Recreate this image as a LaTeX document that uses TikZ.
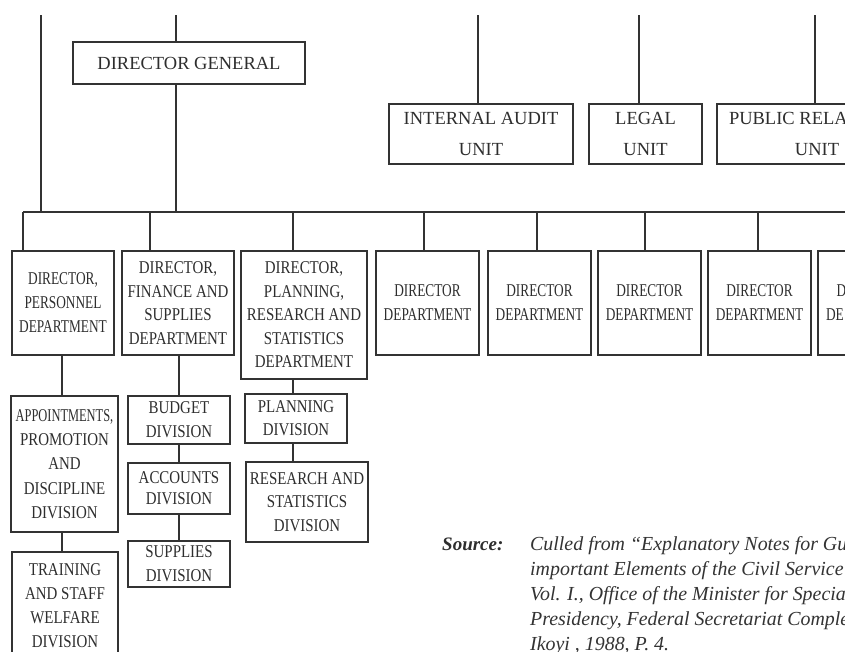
\documentclass[tikz,border=0pt]{standalone}
\usepackage{fontspec}
\setmainfont{Liberation Serif}
\newfontfamily\topfont{Liberation Serif}
\newfontfamily\condA{Liberation Serif}[FakeStretch=0.83]
\newfontfamily\condB{Liberation Serif}[FakeStretch=0.74]
\newfontfamily\condC{Liberation Serif}[FakeStretch=0.69]
\tikzset{
  box/.style={draw=black!80, line width=1.1pt, inner sep=0pt, align=center, text=black!82, rectangle},
  topbox/.style={box, font=\topfont\fontsize{18.5}{31}\selectfont},
  deptbox/.style={box, font=\condA\fontsize{18}{23.5}\selectfont},
  narrowbox/.style={box, font=\condB\fontsize{18}{24}\selectfont},
  conn/.style={draw=black!80, line width=1.1pt},
  srcline/.style={anchor=base west, inner sep=0pt, text=black!80, font=\itshape\fontsize{19.9}{24}\selectfont}
}
\begin{document}
\begin{tikzpicture}[x=1pt,y=-1pt]
\useasboundingbox (0,0) rectangle (845,651);
\fill[white] (0,0) rectangle (845,651);
\clip (0,0) rectangle (845,651);

% top level
\node[topbox, minimum width=232, minimum height=42] (dg) at (189,63) {DIRECTOR GENERAL};
\node[topbox, minimum width=184, minimum height=60] (ia) at (481,134) {INTERNAL AUDIT\\UNIT};
\node[topbox, minimum width=113, minimum height=60] (legal) at (645.5,134) {LEGAL\\UNIT};
\node[topbox, minimum width=200, minimum height=60] (pr) at (817,134) {\makebox[176pt][l]{PUBLIC RELA}\\UNIT};

% departments
\node[deptbox, font=\condB\fontsize{18}{24}\selectfont, minimum width=102, minimum height=104] (b1) at (63,303) {DIRECTOR,\\PERSONNEL\\DEPARTMENT};
\node[deptbox, minimum width=112, minimum height=104] (b2) at (178,303) {DIRECTOR,\\FINANCE AND\\SUPPLIES\\DEPARTMENT};
\node[deptbox, minimum width=126, minimum height=128] (b3) at (304,315) {DIRECTOR,\\PLANNING,\\RESEARCH AND\\STATISTICS\\DEPARTMENT};
\node[narrowbox, minimum width=103, minimum height=104] (d4) at (427.5,303) {DIRECTOR\\DEPARTMENT};
\node[narrowbox, minimum width=103, minimum height=104] (d5) at (539.5,303) {DIRECTOR\\DEPARTMENT};
\node[narrowbox, minimum width=103, minimum height=104] (d6) at (649.5,303) {DIRECTOR\\DEPARTMENT};
\node[narrowbox, minimum width=103, minimum height=104] (d7) at (759.5,303) {DIRECTOR\\DEPARTMENT};
\node[narrowbox, minimum width=103, minimum height=104] (d8) at (869.5,303) {\makebox[66pt][l]{D}\\\makebox[87pt][l]{DE}};

% divisions
\node[deptbox, font=\condA\fontsize{18}{24.25}\selectfont, minimum width=107, minimum height=136] (ap) at (64.5,464) {{\condC APPOINTMENTS,}\\PROMOTION\\AND\\DISCIPLINE\\DIVISION};
\node[deptbox, font=\condA\fontsize{18}{24}\selectfont, minimum width=106, minimum height=108] (tr) at (65,606) {TRAINING\\AND STAFF\\WELFARE\\DIVISION};
\node[deptbox, font=\condA\fontsize{18}{24}\selectfont, minimum width=102, minimum height=48] (bu) at (179,420) {BUDGET\\DIVISION};
\node[deptbox, font=\condA\fontsize{18}{21}\selectfont, minimum width=102, minimum height=51] (ac) at (179,488.5) {ACCOUNTS\\DIVISION};
\node[deptbox, font=\condA\fontsize{18}{24}\selectfont, minimum width=102, minimum height=46] (su) at (179,564) {SUPPLIES\\DIVISION};
\node[deptbox, font=\condA\fontsize{18}{23}\selectfont, minimum width=102, minimum height=49] (pd) at (296,418.5) {PLANNING\\DIVISION};
\node[deptbox, minimum width=122, minimum height=80] (rs) at (307,502) {RESEARCH AND\\STATISTICS\\DIVISION};

% coordinates
\coordinate (t1) at (41,15);
\coordinate (t2) at (176,15);
\coordinate (t3) at (478,15);
\coordinate (t4) at (639,15);
\coordinate (t5) at (815,15);
\coordinate (busL) at (23,212);
\coordinate (busR) at (850,212);
\coordinate (x1) at (23,0);
\coordinate (x2) at (150,0);
\coordinate (x3) at (293,0);
\coordinate (x4) at (424,0);
\coordinate (x5) at (537,0);
\coordinate (x6) at (645,0);
\coordinate (x7) at (758,0);
\coordinate (v1) at (62,0);
\coordinate (v2) at (179,0);
\coordinate (v3) at (293,0);

% connectors
\draw[conn] (t1) -- (t1 |- busL);
\draw[conn] (t2) -- (dg.north -| t2);
\draw[conn] (dg.south -| t2) -- (t2 |- busL);
\draw[conn] (t3) -- (ia.north -| t3);
\draw[conn] (t4) -- (legal.north -| t4);
\draw[conn] (t5) -- (pr.north -| t5);
\draw[conn] (busL) -- (busR);
\draw[conn] (busL -| x1) -- (b1.north -| x1);
\draw[conn] (busL -| x2) -- (b2.north -| x2);
\draw[conn] (busL -| x3) -- (b3.north -| x3);
\draw[conn] (busL -| x4) -- (d4.north -| x4);
\draw[conn] (busL -| x5) -- (d5.north -| x5);
\draw[conn] (busL -| x6) -- (d6.north -| x6);
\draw[conn] (busL -| x7) -- (d7.north -| x7);
\draw[conn] (b1.south -| v1) -- (ap.north -| v1);
\draw[conn] (ap.south -| v1) -- (tr.north -| v1);
\draw[conn] (b2.south -| v2) -- (bu.north -| v2);
\draw[conn] (bu.south -| v2) -- (ac.north -| v2);
\draw[conn] (ac.south -| v2) -- (su.north -| v2);
\draw[conn] (b3.south -| v3) -- (pd.north -| v3);
\draw[conn] (pd.south -| v3) -- (rs.north -| v3);

% source
\node[anchor=base west, inner sep=0pt, text=black!82, font=\bfseries\itshape\fontsize{19}{24}\selectfont] (srclab) at (442,550) {Source:};
\node[srcline] (s1) at (530,550) {Culled from “Explanatory Notes for Gu};
\node[srcline] (s2) at (530,575) {important Elements of the Civil Service};
\node[srcline] (s3) at (530,600) {Vol. I., Office of the Minister for Special c};
\node[srcline] (s4) at (530,625) {Presidency, Federal Secretariat Complex};
\node[srcline] (s5) at (530,650) {Ikoyi , 1988, P. 4.};
\end{tikzpicture}
\end{document}
